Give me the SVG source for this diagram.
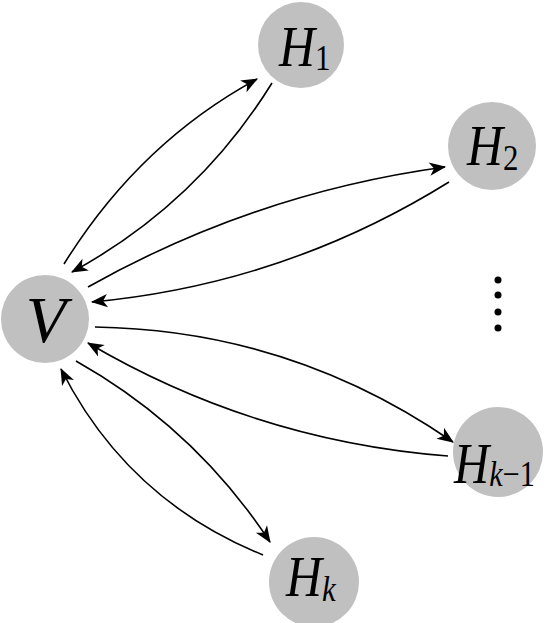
<svg xmlns="http://www.w3.org/2000/svg" width="546" height="623" viewBox="0 0 546 623">
<style>
.node{fill:#c0c0c0;stroke:none}
.lbl{font-family:"Liberation Serif","Times New Roman",serif;font-style:italic;fill:#000}
.sub{font-style:normal}
.edge{fill:none;stroke:#000;stroke-width:1.6;marker-end:url(#ah)}
</style>
<defs>
<marker id="ah" markerUnits="userSpaceOnUse" markerWidth="20" markerHeight="20" viewBox="-16 -8 18 16" refX="0" refY="0" orient="auto">
<path d="M1,0 L-14,-6 L-10,0 L-14,6 Z" fill="#000"/>
</marker>
</defs>
<rect width="546" height="623" fill="#fff"/>
<g id="connectors">
<path class="edge" d="M64,264 Q139,143 257,79"/>
<path class="edge" d="M272,83 Q197,204 72,272"/>
<path class="edge" d="M88,287 Q255,193 445,167"/>
<path class="edge" d="M449,182 Q285,284 92,302"/>
<path class="edge" d="M95,327 Q291,330 453,442"/>
<path class="edge" d="M448,456 Q255,441 88,343"/>
<path class="edge" d="M76,361 Q195,428 270,542"/>
<path class="edge" d="M263,555 Q127,500 61,369"/>
</g>
<g id="V">
<circle class="node" cx="45" cy="319" r="44"/>
<text class="lbl" x="46" y="342" font-size="66" text-anchor="middle">V</text>
</g>
<g id="H1">
<circle class="node" cx="301" cy="45" r="43"/>
<text class="lbl" transform="translate(279,66) scale(0.86,1)" font-size="58">H<tspan class="sub" font-size="36" dy="4">1</tspan></text>
</g>
<g id="H2">
<circle class="node" cx="492" cy="146" r="44"/>
<text class="lbl" transform="translate(467,165) scale(0.86,1)" font-size="58">H<tspan class="sub" font-size="36" dy="5">2</tspan></text>
</g>
<g id="Hk-1">
<circle class="node" cx="498" cy="452" r="45"/>
<text class="lbl" transform="translate(454,483) scale(0.84,1)" font-size="58">H<tspan font-size="36" dy="3">k</tspan><tspan class="sub" font-size="36">−1</tspan></text>
</g>
<g id="Hk">
<circle class="node" cx="314" cy="582" r="45"/>
<text class="lbl" transform="translate(286,596) scale(0.86,1)" font-size="58">H<tspan font-size="36" dy="5">k</tspan></text>
</g>
<g id="dots" fill="#000">
<circle cx="498" cy="280" r="3.5"/>
<circle cx="498" cy="295" r="3.5"/>
<circle cx="498" cy="312" r="3.5"/>
<circle cx="498" cy="328" r="3.5"/>
</g>
</svg>
